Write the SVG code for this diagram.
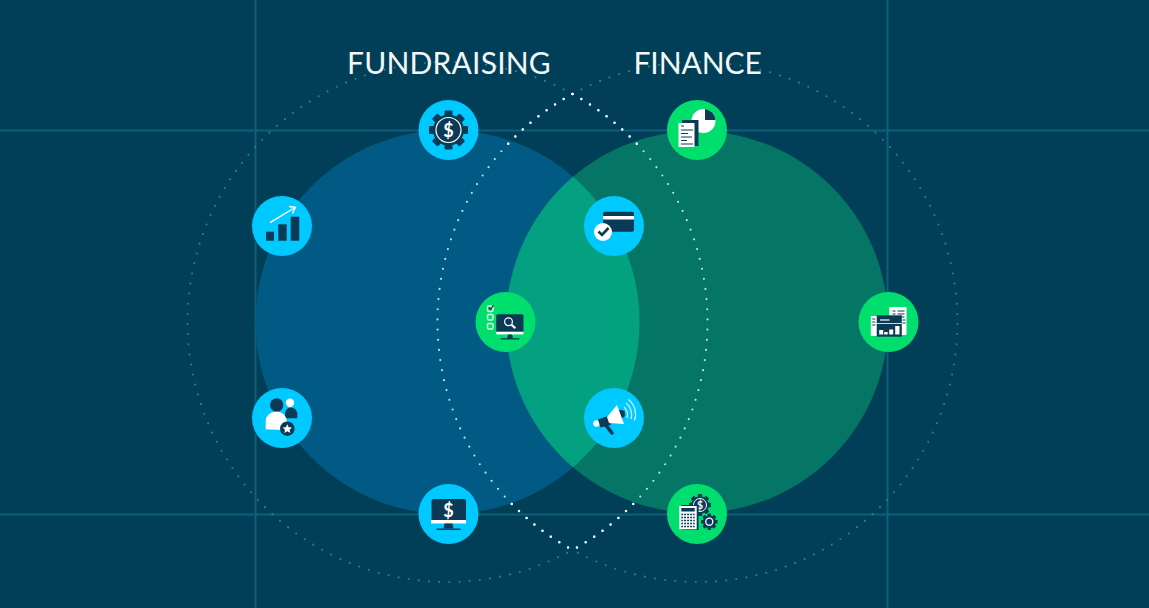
<svg xmlns="http://www.w3.org/2000/svg" width="1149" height="608" viewBox="0 0 1149 608">
<style>
.title{font-family:"Lato","Liberation Sans",sans-serif;font-size:30px;fill:#f2f7f8;letter-spacing:.2px}
.grid{stroke:#0f5f78;stroke-width:2;fill:none}
.faint{fill:none;stroke:#22858a;stroke-width:2.100;stroke-linecap:round;stroke-dasharray:0 10.200}
.bright{fill:none;stroke:#bfdbe6;stroke-width:2.200;stroke-linecap:round;stroke-dasharray:0 10.200}
.brighter{stroke:#f4f9fa;stroke-width:2.500}
.cy{fill:#00c9ff}.gr{fill:#00df6e}
.d{fill:#0a3a55}.w{fill:#fff}
.sym{font-family:"Lato","Liberation Sans",sans-serif;font-weight:700;fill:#fff;text-anchor:middle}
</style>
<defs>
<clipPath id="lc"><circle cx="447.5" cy="322" r="192"/></clipPath>
<clipPath id="ends"><rect x="430" y="80" width="290" height="66"/><rect x="430" y="498" width="290" height="66"/></clipPath>
<linearGradient id="lens" x1="0" x2="1" y1="0" y2="0"><stop offset="0" stop-color="#049f82"/><stop offset=".5" stop-color="#03a47c"/><stop offset="1" stop-color="#05a282"/></linearGradient>
<g id="gear" fill="#0a3a55">
<circle r="15.500"/>
<g id="t2"><rect x="-4" y="-19.500" width="8" height="39" rx="1"/><rect x="-4" y="-19.500" width="8" height="39" rx="1" transform="rotate(90)"/></g>
<use href="#t2" transform="rotate(45)"/>
</g>
</defs>
<rect width="1149" height="608" fill="#013e57"/>
<g id="background-grid">
<path class="grid" d="M255.500 0V608M887.500 0V608M0 130.500H1149M0 514.500H1149"/>
</g>
<g id="circle-fundraising"><circle cx="447.500" cy="322" r="192" fill="#015a84"/></g>
<g id="circle-finance"><circle cx="697" cy="322" r="191" fill="#057566"/></g>
<g id="circle-overlap"><g clip-path="url(#lc)"><circle cx="697" cy="322" r="191" fill="url(#lens)"/></g></g>
<g id="connectors">
<path class="faint" d="M572.500 94A260 260 0 1 0 572.500 550"/>
<path class="faint" d="M572.500 94A260 260 0 1 1 572.500 550"/>
<path class="bright" d="M572.500 94A260 260 0 0 1 572.500 550"/>
<path class="bright" d="M572.500 94A260 260 0 0 0 572.500 550"/>
<g clip-path="url(#ends)">
<path class="bright brighter" d="M572.500 94A260 260 0 0 1 572.500 550"/>
<path class="bright brighter" d="M572.500 94A260 260 0 0 0 572.500 550"/>
</g>
</g>
<g id="label-fundraising"><text class="title" x="347" y="74">FUNDRAISING</text></g>
<g id="label-finance"><text class="title" x="633.500" y="74" style="letter-spacing:-.1px">FINANCE</text></g>

<g id="node-gear-dollar" transform="translate(448.500 130)">
<circle class="cy" r="30"/>
<use href="#gear"/>
<circle r="12.500" fill="none" stroke="#fff" stroke-width="1.200"/>
<text class="sym" y="6.500" font-size="18">$</text>
</g>
<g id="node-growth-chart" transform="translate(282 226)">
<circle class="cy" r="30"/>
<rect class="d" x="-16" y="5.700" width="8" height="9"/><rect class="d" x="-3.700" y="-1.700" width="8.400" height="16.400"/><rect class="d" x="8.700" y="-9.300" width="8.600" height="24"/>
<path d="M-12-3.300 13-18.500M7-19.500l6.500.8-3 6" fill="none" stroke="#fff" stroke-width="1.400"/>
</g>
<g id="node-people-star" transform="translate(282 418)">
<circle class="cy" r="30"/>
<circle class="w" cx="8" cy="-15.300" r="4.200"/>
<path class="d" d="M3 .3V-5a6.500 6.500 0 0 1 6-5.500 6.500 6.500 0 0 1 6.300 6V.3z"/>
<circle class="d" cx="-5.300" cy="-13" r="6.700"/>
<path class="w" d="M-16.300 11.300V3a9.500 9.500 0 0 1 9.500-9.300h2a9.500 9.500 0 0 1 9.500 9.500v9.100z"/>
<circle class="d" cx="5.300" cy="10.700" r="7.300"/>
<path class="w" d="M5.300 6.200l1.400 3 3.300.4-2.400 2.200.7 3.200-3-1.700-3 1.700.7-3.200-2.400-2.200 3.300-.4z"/>
</g>
<g id="node-monitor-dollar" transform="translate(448.500 514)">
<circle class="cy" r="30"/>
<rect class="d" x="-17" y="-15" width="34.500" height="22" rx="2"/>
<rect class="w" x="-17.500" y="6" width="35" height="3.500"/>
<path class="d" d="M-4 9.500h8l1 5h-10z"/>
<rect class="d" x="-12" y="14.500" width="24" height="1.500"/>
<text class="sym" y="3" font-size="18">$</text>
</g>
<g id="node-card-check" transform="translate(614 226)">
<circle class="cy" r="30"/>
<rect class="d" x="-11" y="-14.300" width="31" height="20" rx="2"/>
<rect class="w" x="-11" y="-10" width="31" height="3.500"/>
<circle class="w" cx="-11" cy="6" r="9"/>
<path d="M-15.500 5.500l3.500 3.500 6.500-7" fill="none" stroke="#0a3a55" stroke-width="2.600"/>
</g>
<g id="node-checklist-monitor" transform="translate(505.500 322)">
<circle class="gr" r="30"/>
<rect x="-18" y="-16" width="5.500" height="5.500" rx="1.500" fill="none" stroke="#d8f8e6" stroke-width="1.500"/>
<rect x="-18" y="-7.500" width="5.500" height="5.500" rx="1.500" fill="none" stroke="#d8f8e6" stroke-width="1.500"/>
<rect x="-18" y="1.500" width="5.500" height="5.500" rx="1.500" fill="none" stroke="#d8f8e6" stroke-width="1.500"/>
<path d="M-17-14.500l2 2 3-4.500" fill="none" stroke="#0a3a55" stroke-width="1.300"/>
<rect class="d" x="-9.300" y="-7.700" width="27.300" height="18" rx="1.500"/>
<rect class="w" x="-9.300" y="9.700" width="27.300" height="2.700"/>
<path class="d" d="M2.500 12.400h4l1 4h-6z"/><rect class="d" x="-4.700" y="16.200" width="18.700" height="1.300"/>
<circle cx="3" cy="-.3" r="3.900" fill="none" stroke="#fff" stroke-width="1.200"/>
<path d="M5.800 2.500l4 3.800" stroke="#fff" stroke-width="2.200"/>
</g>
<g id="node-megaphone" transform="translate(614 418)">
<circle class="cy" r="30"/>
<circle class="d" cx="7" cy="-4" r="4"/>
<circle class="w" cx="-17.500" cy="5.500" r="3.200"/>
<path d="M-9 6l7 9" stroke="#0a3a55" stroke-width="3.600" stroke-linecap="round"/>
<path class="d" d="M-16 1.500-6-2-3 7-13.500 9.500z"/>
<path class="w" d="M3-13 10 6-5 5-7-1z"/>
<path d="M10-11a11 11 0 0 1 3 11M12-15a15 15 0 0 1 5 16M14.500-18.500a19 19 0 0 1 6 21" fill="none" stroke="#d8f4ff" stroke-width="1.200"/>
</g>
<g id="node-report-pie" transform="translate(697 130)">
<circle class="gr" r="30"/>
<circle class="w" cx="6.500" cy="-9" r="12"/>
<path class="d" d="M8-21a12 12 0 0 1 10.500 11H8z"/>
<rect class="d" x="-15" y="-10" width="16.500" height="26"/>
<rect class="w" x="-18.500" y="-7" width="16" height="24"/>
<path d="M-16-4h3M-16 0h12M-16 3.500h7M-16 7h11M-16 10.500h6M-16 14h12" stroke="#0a3a55" stroke-width="1.200"/>
</g>
<g id="node-calculator-gears" transform="translate(697 514)">
<circle class="gr" r="30"/>
<use href="#gear" transform="translate(3 -9) scale(.56)"/>
<circle cx="3" cy="-9" r="6.500" fill="none" stroke="#fff" stroke-width="1"/>
<text class="sym" x="3" y="-5" font-size="10.500">$</text>
<use href="#gear" transform="translate(12.300 7.700) scale(.42)"/>
<circle cx="12.300" cy="7.700" r="3.500" fill="none" stroke="#fff" stroke-width="1.300"/>
<rect class="d" x="-15.500" y="-9" width="17" height="25"/>
<rect class="w" x="-17.700" y="-8" width="17.400" height="23.300"/>
<rect class="d" x="-15.700" y="-6" width="13.400" height="3.500"/>
<path d="M-15.700.5h13.400M-15.700 3.500h13.400M-15.700 6.500h13.400M-15.700 9.500h13.400M-15.700 12.500h13.400" stroke="#0a3a55" stroke-width="1.600"/>
<path d="M-13.400-.5v15M-10.400-.5v15M-7.400-.5v15M-4.400-.5v15" stroke="#fff" stroke-width="1"/>
</g>
<g id="node-reports-chart" transform="translate(888.500 322)">
<circle class="gr" r="30"/>
<rect class="w" x=".7" y="-15" width="17.300" height="28"/>
<path d="M4-11h3M9-11h7M4-8h3M9-8h7M4-5h3M9-5h7M14-2h3M14 1h3" stroke="#0a3a55" stroke-width="1.200"/>
<rect class="w" x="-17.700" y="-6" width="6" height="20"/>
<path d="M-16.200-3h3M-16.200 0h3M-16.200 3h3" stroke="#0a3a55" stroke-width="1.200"/>
<rect class="d" x="-11.700" y="-6.700" width="25" height="21.400"/>
<path d="M-8.500-2H1" stroke="#fff" stroke-width="1.200"/>
<path d="M-11.700 1.500H13.300" stroke="#fff" stroke-width=".8"/>
<path class="w" d="M-9.300 8h4v4.500h-4zM-4.300 10h3.500v2.500h-3.500zM.7 7.500h4v5h-4zM6.700 4h4.300v8.500H6.700z"/>
</g>
</svg>
